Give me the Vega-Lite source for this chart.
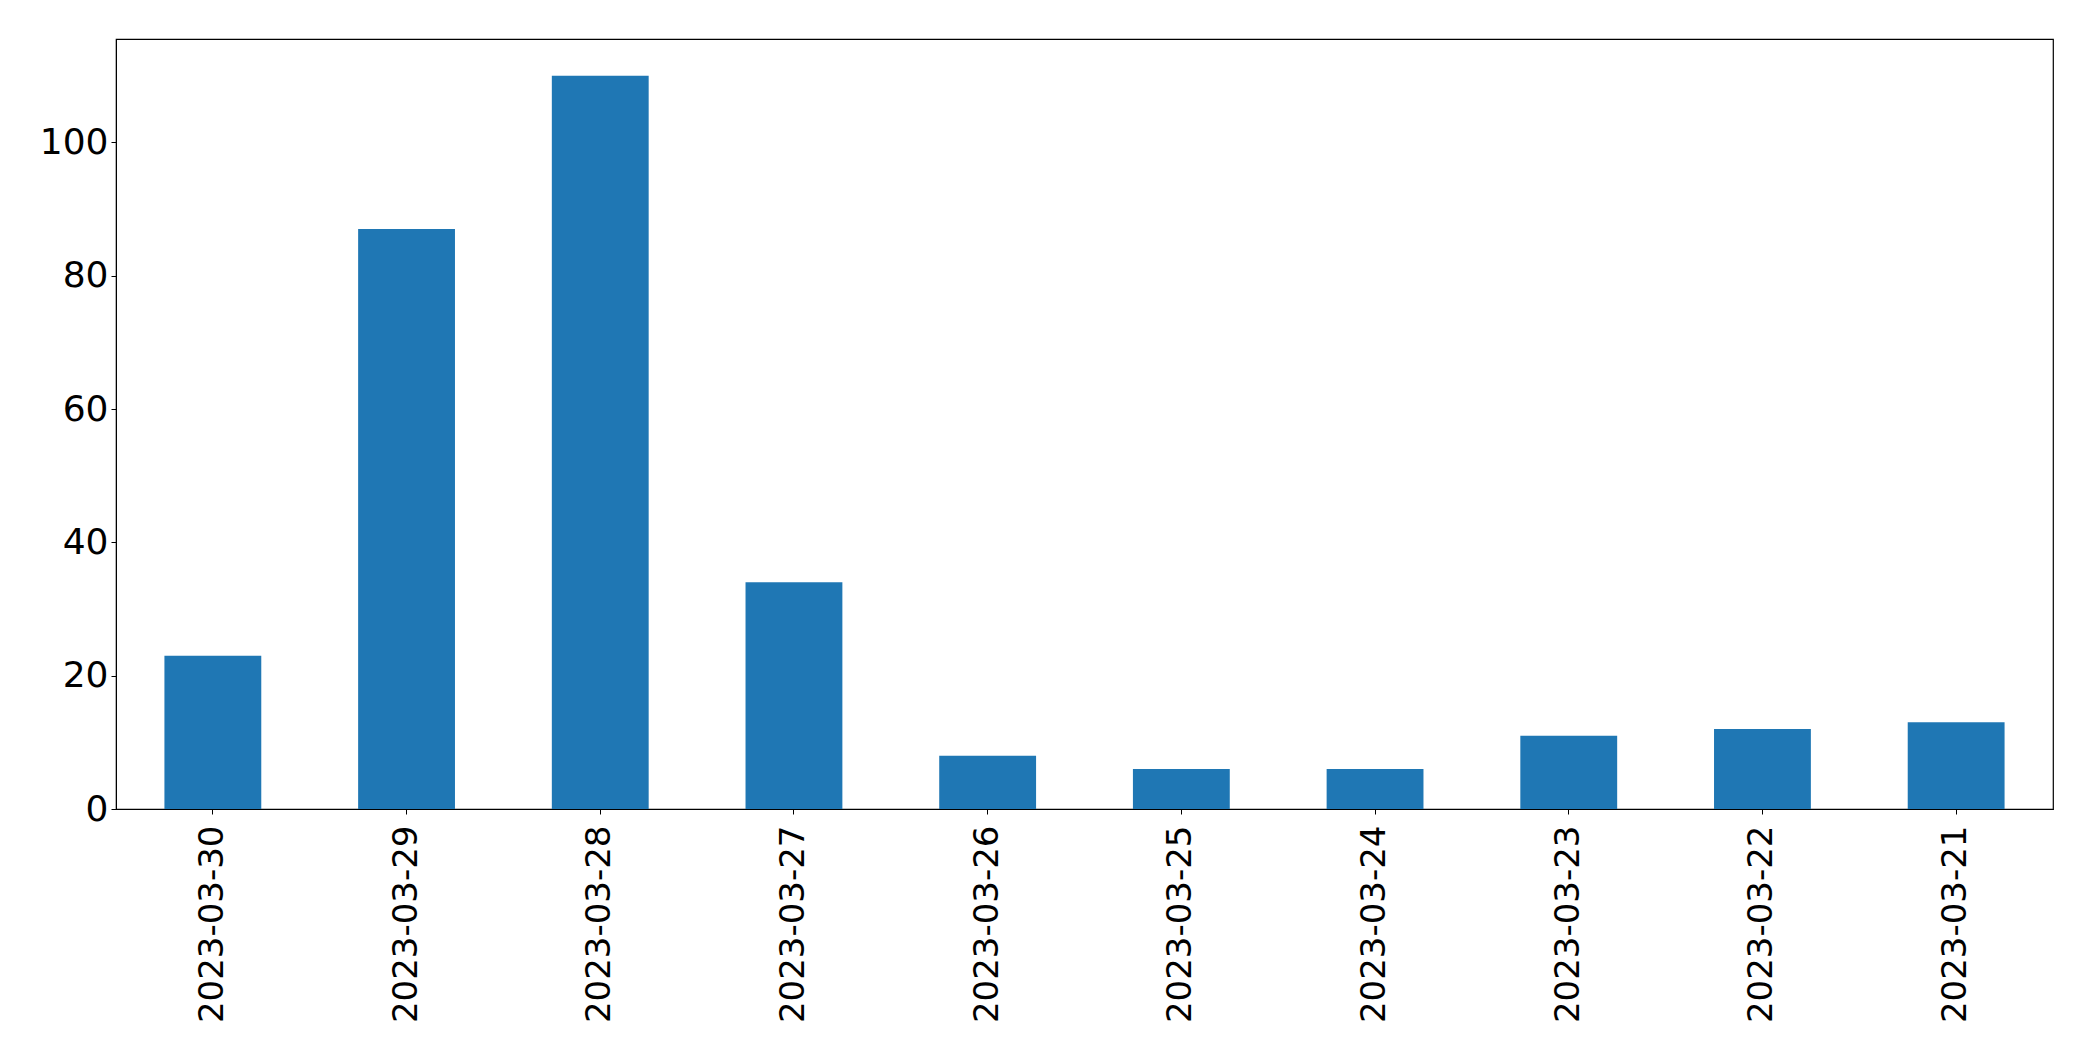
{
  "$schema": "https://vega.github.io/schema/vega-lite/v6.json",
  "width": 1937,
  "height": 770,
  "autosize": {"type": "none"},
  "padding": {"left": 116, "top": 39, "right": 40, "bottom": 252},
  "background": "white",
  "config": {
    "view": {"stroke": "black", "strokeWidth": 1.2},
    "axis": {
      "labelFont": "DejaVu Sans",
      "labelFontSize": 34,
      "labelColor": "black",
      "labelLimit": 1000,
      "domainColor": "black",
      "tickColor": "black",
      "tickSize": 5,
      "grid": false,
      "title": null
    }
  },
  "data": {
    "values": [
      {"date": "2023-03-30", "count": 23},
      {"date": "2023-03-29", "count": 87},
      {"date": "2023-03-28", "count": 110},
      {"date": "2023-03-27", "count": 34},
      {"date": "2023-03-26", "count": 8},
      {"date": "2023-03-25", "count": 6},
      {"date": "2023-03-24", "count": 6},
      {"date": "2023-03-23", "count": 11},
      {"date": "2023-03-22", "count": 12},
      {"date": "2023-03-21", "count": 13}
    ]
  },
  "mark": {"type": "bar", "color": "#1f77b4"},
  "encoding": {
    "x": {
      "field": "date",
      "type": "nominal",
      "sort": null,
      "scale": {"paddingInner": 0.5, "paddingOuter": 0.25},
      "axis": {"labelAngle": -90, "labelPadding": 11, "title": null}
    },
    "y": {
      "field": "count",
      "type": "quantitative",
      "scale": {"domain": [0, 115.5], "nice": false, "zero": true},
      "axis": {"values": [0, 20, 40, 60, 80, 100], "labelPadding": 3, "labelFontSize": 36, "title": null}
    }
  }
}
